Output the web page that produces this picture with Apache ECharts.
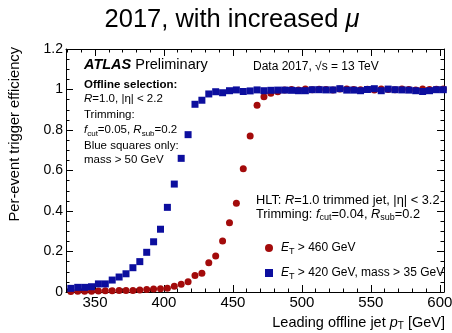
<!DOCTYPE html>
<html>
<head>
<meta charset="utf-8">
<script src="https://cdn.jsdelivr.net/npm/echarts@6/dist/echarts.min.js"></script>
<style>
html, body { margin: 0; padding: 0; background: #fff; }
#chart { width: 452px; height: 333px; }
</style>
</head>
<body>
<div id="chart"></div>
<script>
// Leading jet pT bin centres [GeV]
const ptBins = [
  332.5, 337.5, 342.5, 347.5, 352.5, 357.5, 362.5, 367.5, 372.5, 377.5,
  382.5, 387.5, 392.5, 397.5, 402.5, 407.5, 412.5, 417.5, 422.5, 427.5,
  432.5, 437.5, 442.5, 447.5, 452.5, 457.5, 462.5, 467.5, 472.5, 477.5,
  482.5, 487.5, 492.5, 497.5, 502.5, 507.5, 512.5, 517.5, 522.5, 527.5,
  532.5, 537.5, 542.5, 547.5, 552.5, 557.5, 562.5, 567.5, 572.5, 577.5,
  582.5, 587.5, 592.5, 597.5, 602.5
];

// Trigger efficiency, E_T > 460 GeV
const effEt460 = [
  0.003, 0.004, 0.004, 0.004, 0.005, 0.006, 0.006, 0.007, 0.008, 0.008,
  0.010, 0.012, 0.015, 0.016, 0.018, 0.028, 0.038, 0.051, 0.081, 0.092,
  0.145, 0.178, 0.252, 0.342, 0.438, 0.609, 0.770, 0.922, 0.964, 0.981,
  0.989, 0.997, 1.000, 0.998, 1.002, 0.999, 1.001, 1.000, 0.998, 1.003,
  1.002, 1.000, 0.999, 1.001, 0.998, 1.002, 1.000, 0.999, 1.003, 1.000,
  0.998, 1.002, 1.000, 1.001, 1.003
];

// Trigger efficiency, E_T > 420 GeV and mass > 35 GeV
const effEt420Mass35 = [
  0.018, 0.023, 0.023, 0.026, 0.040, 0.040, 0.059, 0.074, 0.090, 0.120,
  0.150, 0.196, 0.248, 0.310, 0.418, 0.533, 0.660, 0.777, 0.927, 0.947,
  0.978, 0.989, 0.984, 0.994, 0.998, 0.990, 0.993, 0.998, 0.994, 0.996,
  0.997, 0.997, 0.996, 0.994, 0.994, 0.999, 0.999, 0.998, 0.998, 1.004,
  0.997, 0.997, 0.994, 1.000, 1.004, 0.994, 1.002, 0.999, 0.998, 0.997,
  0.994, 0.990, 0.994, 0.999, 0.999
];

// Axis ticks
const xMajorTicks = [350, 400, 450, 500, 550, 600];
const xMinorTicks = [330, 340, 360, 370, 380, 390, 410, 420, 430, 440, 460, 470,
                     480, 490, 510, 520, 530, 540, 560, 570, 580, 590];
const yMin = 0, yMax = 1.2, yStep = 0.2;
const xMin = 329, xMax = 603;

const seriesNames = ['E_T > 460 GeV', 'E_T > 420 GeV, mass > 35 GeV'];

const FONT = '"Liberation Sans", Arial, Helvetica, sans-serif';
const RED = '#a30b0b';
const BLUE = '#0c0e9e';

function pairs(xs, ys) { return xs.map((x, i) => [x, ys[i]]); }

// Rich-text helpers for italics and subscripts
function richSet(size) {
  return {
    i: { fontStyle: 'italic', fontSize: size, fontFamily: FONT, lineHeight: 16 },
    b: { fontWeight: 'bold', fontSize: size, fontFamily: FONT, lineHeight: 16 },
    bi: { fontWeight: 'bold', fontStyle: 'italic', fontSize: size, fontFamily: FONT, lineHeight: 16 },
    s: { fontSize: Math.round(size * 0.72), fontFamily: FONT, lineHeight: 8, verticalAlign: 'bottom' }
  };
}

function label(x, y, text, size, extra) {
  return Object.assign({
    type: 'text', x: x, y: y, silent: true,
    style: Object.assign({
      text: text, fill: '#000', fontSize: size, fontFamily: FONT,
      lineHeight: 16, textAlign: 'left', textVerticalAlign: 'middle',
      rich: richSet(size)
    }, (extra && extra.style) || {})
  }, extra ? { rotation: extra.rotation || 0 } : {});
}

const chart = echarts.init(document.getElementById('chart'), null, { renderer: 'canvas' });

const tickStyle = { color: '#000', width: 1 };
const frameLine = { show: true, lineStyle: { color: '#000', width: 1 } };

function xAxisDef(pos, major, showLabel) {
  return {
    type: 'value', min: xMin, max: xMax, position: pos,
    axisLine: major ? frameLine : { show: false },
    axisTick: { show: true, inside: true, length: major ? 7 : 3.5,
                customValues: major ? xMajorTicks : xMinorTicks, lineStyle: tickStyle },
    axisLabel: showLabel ? { show: true, customValues: xMajorTicks, fontSize: 15,
                             fontFamily: FONT, color: '#000', margin: 3 } : { show: false },
    splitLine: { show: false }
  };
}

function yAxisDef(pos, showLabel) {
  return {
    type: 'value', min: yMin, max: yMax, interval: yStep, position: pos,
    axisLine: frameLine,
    axisTick: { show: true, inside: true, length: 7, lineStyle: tickStyle },
    minorTick: { show: true, splitNumber: 4, length: 3.5, lineStyle: tickStyle },
    axisLabel: showLabel ? {
      show: true, fontSize: 14, fontFamily: FONT, color: '#000', margin: 3,
      formatter: v => String(+v.toFixed(1))
    } : { show: false },
    splitLine: { show: false }
  };
}

chart.setOption({
  animation: false,
  backgroundColor: '#fff',
  grid: { left: 66, right: 8, top: 49, bottom: 41, outerBoundsMode: 'none' },
  xAxis: [
    xAxisDef('bottom', true, true),
    xAxisDef('bottom', false, false),
    xAxisDef('top', true, false),
    xAxisDef('top', false, false)
  ],
  yAxis: [yAxisDef('left', true), yAxisDef('right', false)],
  legend: {
    orient: 'vertical', left: 260, top: 235, itemGap: 9,
    itemWidth: 8, itemHeight: 8, selectedMode: false,
    data: [{ name: seriesNames[0], icon: 'circle' }, { name: seriesNames[1], icon: 'rect' }],
    formatter: n => n.replace('E_T', '{i|E}{s|T}'),
    textStyle: { fontSize: 12, fontFamily: FONT, color: '#000', lineHeight: 16,
                 padding: [0, 0, 0, 3], rich: richSet(12) }
  },
  series: [
    {
      name: seriesNames[0], type: 'scatter', xAxisIndex: 0, yAxisIndex: 0,
      symbol: 'circle', symbolSize: 7, itemStyle: { color: RED, opacity: 1 },
      data: pairs(ptBins, effEt460), z: 2
    },
    {
      name: seriesNames[1], type: 'scatter', xAxisIndex: 0, yAxisIndex: 0,
      symbol: 'rect', symbolSize: 7, itemStyle: { color: BLUE, opacity: 1 },
      data: pairs(ptBins, effEt420Mass35), z: 3
    }
  ],
  graphic: [
    label(232, 20, '2017, with increased {m|μ}', 25.5, {
      style: { textAlign: 'center', lineHeight: 30,
               rich: { m: { fontStyle: 'italic', fontSize: 25.5, fontFamily: FONT, lineHeight: 30 } } }
    }),
    label(15, 47, 'Per-event trigger efficiency', 14.7, {
      rotation: Math.PI / 2, style: { textAlign: 'right' }
    }),
    label(445, 323, 'Leading offline jet {i|p}{s|T} [GeV]', 14.5, { style: { textAlign: 'right' } }),
    label(84, 65, '{bi|ATLAS} Preliminary', 14.5),
    label(253, 67, 'Data 2017, √s = 13 TeV', 12),
    label(84, 85, '{b|Offline selection:}', 11.5),
    label(84, 99, '{i|R}=1.0, |η| < 2.2', 11.5),
    label(84, 115, 'Trimming:', 11.5),
    label(84, 130, '{i|f}{s|cut}=0.05, {i|R}{s|sub}=0.2', 11.5),
    label(84, 146, 'Blue squares only:', 11.5),
    label(84, 160, 'mass > 50 GeV', 11.5),
    label(256, 200, 'HLT: {i|R}=1.0 trimmed jet, |η| < 3.2', 12.8),
    label(256, 214, 'Trimming: {i|f}{s|cut}=0.04, {i|R}{s|sub}=0.2', 12.8)
  ]
});
</script>
</body>
</html>
